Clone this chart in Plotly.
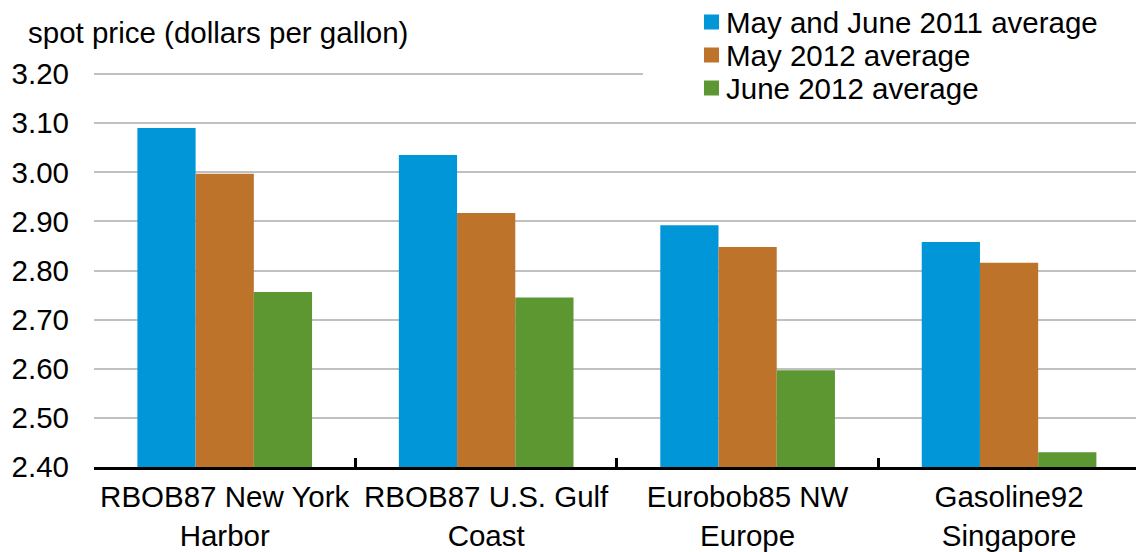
"""
Precios spot de gasolina: promedio mayo-junio 2011 frente a mayo y junio 2012.
"""
import plotly.graph_objects as go

# Datos
CATEGORIAS = ["RBOB87 New York<br>Harbor", "RBOB87 U.S. Gulf<br>Coast",
              "Eurobob85 NW<br>Europe", "Gasoline92<br>Singapore"]
PROM_MAY_JUN_2011 = [3.090, 3.035, 2.892, 2.858]
PROM_MAY_2012 = [2.997, 2.917, 2.848, 2.816]
PROM_JUN_2012 = [2.756, 2.745, 2.597, 2.430]

SERIES = [
    ("May and June 2011 average", PROM_MAY_JUN_2011, "#0096D7"),
    ("May 2012 average", PROM_MAY_2012, "#BD732A"),
    ("June 2012 average", PROM_JUN_2012, "#5D9732"),
]

FONT_FAMILY = "Liberation Sans, Arial, sans-serif"
TEXT_COLOR = "#000000"
FONT_SIZE = 29.5

ANCHO, ALTO = 1136, 552

# geometria del area de trazado (pixeles)
PLOT_IZQ, PLOT_SUP, PLOT_INF = 94, 60, 467
ANCHO_PLOT = ANCHO - PLOT_IZQ
ALTO_PLOT = PLOT_INF - PLOT_SUP


def px_x(px):
    return (px - PLOT_IZQ) / ANCHO_PLOT


def px_y(py):
    return (PLOT_INF - py) / ALTO_PLOT


fig = go.Figure()
for nombre, valores, color in SERIES:
    fig.add_trace(go.Bar(
        x=CATEGORIAS,
        y=valores,
        name=nombre,
        marker=dict(color=color, line=dict(width=0)),
        showlegend=False,
    ))

# tapa la linea de 3.20 bajo la leyenda
fig.add_shape(
    type="rect", xref="paper", yref="y",
    x0=px_x(643), x1=1.0, y0=3.17, y1=3.23,
    fillcolor="white", line=dict(width=0), layer="above",
)

# leyenda manual (cuadro de color + texto) para controlar el interlineado
for i, (nombre, _, color) in enumerate(SERIES):
    fila = 22 + 33 * i
    fig.add_shape(
        type="rect", xref="paper", yref="paper",
        xsizemode="pixel", ysizemode="pixel",
        xanchor=px_x(704), yanchor=px_y(fila),
        x0=0, x1=15, y0=-7.5, y1=7.5,
        fillcolor=color, line=dict(width=0),
    )
    fig.add_annotation(
        text=nombre,
        xref="paper", yref="paper",
        x=px_x(724), y=px_y(fila), xanchor="left", yanchor="middle",
        showarrow=False,
        font=dict(size=FONT_SIZE, color=TEXT_COLOR, family=FONT_FAMILY),
    )

fig.add_annotation(
    text="spot price (dollars per gallon)",
    xref="paper", yref="paper",
    x=px_x(26), y=px_y(33), xanchor="left", yanchor="middle",
    showarrow=False,
    font=dict(size=FONT_SIZE, color=TEXT_COLOR, family=FONT_FAMILY),
)

fig.update_layout(
    width=ANCHO, height=ALTO,
    barmode="group",
    bargap=0.332,
    bargroupgap=0,
    margin=dict(l=PLOT_IZQ, r=0, t=PLOT_SUP, b=ALTO - PLOT_INF, pad=0, autoexpand=False),
    paper_bgcolor="white",
    plot_bgcolor="white",
    font=dict(family=FONT_FAMILY, size=FONT_SIZE, color=TEXT_COLOR),
    showlegend=False,
    hovermode=False,
    xaxis=dict(
        range=[-0.5, 3.4855],
        automargin=False,
        showline=True, linecolor="black", linewidth=3,
        ticks="inside", tickson="boundaries", ticklen=9,
        tickwidth=2.5, tickcolor="black",
        showgrid=False,
        ticklabelstandoff=2,
        tickfont=dict(size=FONT_SIZE),
    ),
    yaxis=dict(
        range=[2.40, 2.40 + ALTO_PLOT / 491.25],
        automargin=False,
        tick0=2.4, dtick=0.1, tickformat=".2f",
        showgrid=True, gridcolor="#C0C0C0", gridwidth=1.5,
        zeroline=False, showline=False,
        ticks="", ticklabelstandoff=24,
        tickfont=dict(size=FONT_SIZE),
    ),
)

# sin margen en el body para que la figura ocupe la ventana desde (0, 0)
fig.write_html(
    "out.html",
    config={"displayModeBar": False},
    post_script="document.body.style.margin='0';document.body.style.overflow='hidden';",
)
